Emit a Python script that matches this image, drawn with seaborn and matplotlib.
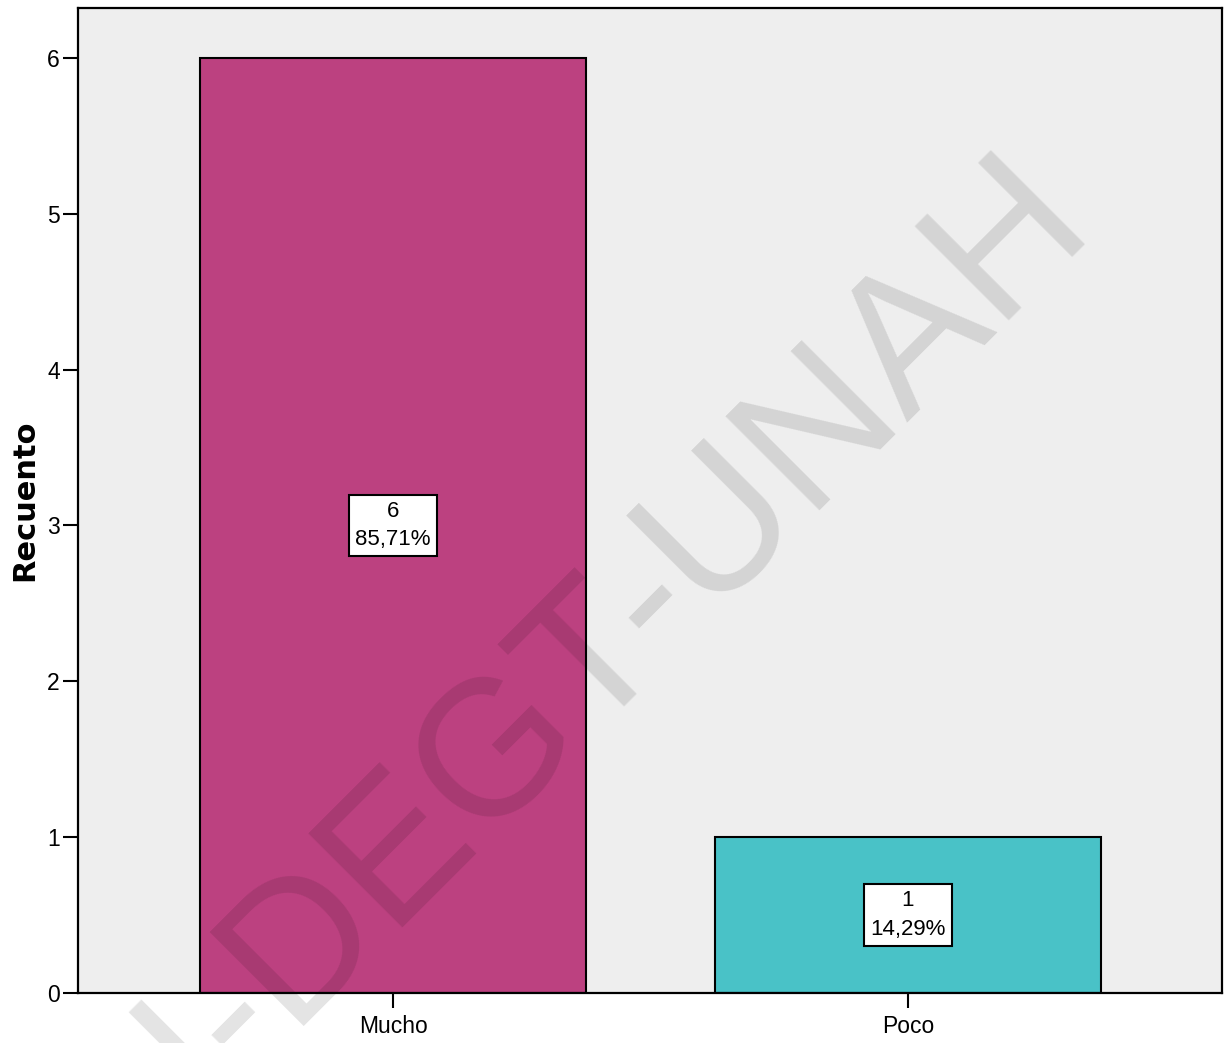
import matplotlib
matplotlib.use("Agg")
import matplotlib.pyplot as plt
import seaborn as sns
import pandas as pd

categories = ["Mucho", "Poco"]
counts = [6, 1]
percent_labels = ["85,71%", "14,29%"]
bar_colors = ["#BC4180", "#49C2C7"]
y_ticks = [0, 1, 2, 3, 4, 5, 6]

sns.set_theme(style="white")
plt.rcParams['font.family'] = ['Liberation Sans', 'DejaVu Sans']

df = pd.DataFrame({"cat": categories, "n": counts})

fig = plt.figure(figsize=(12.31, 10.43), dpi=100)
ax = fig.add_axes([78/1231, 50/1043, (1222-78)/1231, (993-8)/1043])
ax.set_facecolor("#EEEEEE")

sns.barplot(data=df, x="cat", y="n", hue="cat", palette=bar_colors, legend=False,
            width=0.75, edgecolor="black", linewidth=1.5, saturation=1, ax=ax)

for i, (n, p) in enumerate(zip(counts, percent_labels)):
    ax.text(i, n / 2, f"{n}\n{p}", ha="center", va="center", fontsize=16,
            linespacing=1.45, color="black",
            bbox=dict(boxstyle="square,pad=0.28", facecolor="white", edgecolor="black", linewidth=1.5),
            zorder=5)

ax.set_xlim(-0.612, 1.61)
ax.set_ylim(0, 6.32)
ax.set_yticks(y_ticks)
ax.set_yticklabels([str(t) for t in y_ticks])
ax.set_xlabel("")
ax.set_ylabel("Recuento", fontsize=22, fontweight="bold", family="DejaVu Sans",
              labelpad=6, color="black")
ax.tick_params(axis="both", which="both", direction="out", length=11, width=1.5,
               colors="black", labelsize=16.5, left=True, bottom=True, pad=2)
ax.tick_params(axis="x", pad=5)
for s in ax.spines.values():
    s.set_visible(True)
    s.set_color("black")
    s.set_linewidth(1.6)

fig.text(1092.6/1231, 1 - 222.4/1043, "UNAH-DEGT-UNAH", rotation=45, rotation_mode="anchor",
         ha="right", va="baseline", fontsize=139, color="black", alpha=0.11,
         family="Liberation Sans", zorder=10)

fig.savefig("out.png", dpi=100, facecolor="white")
